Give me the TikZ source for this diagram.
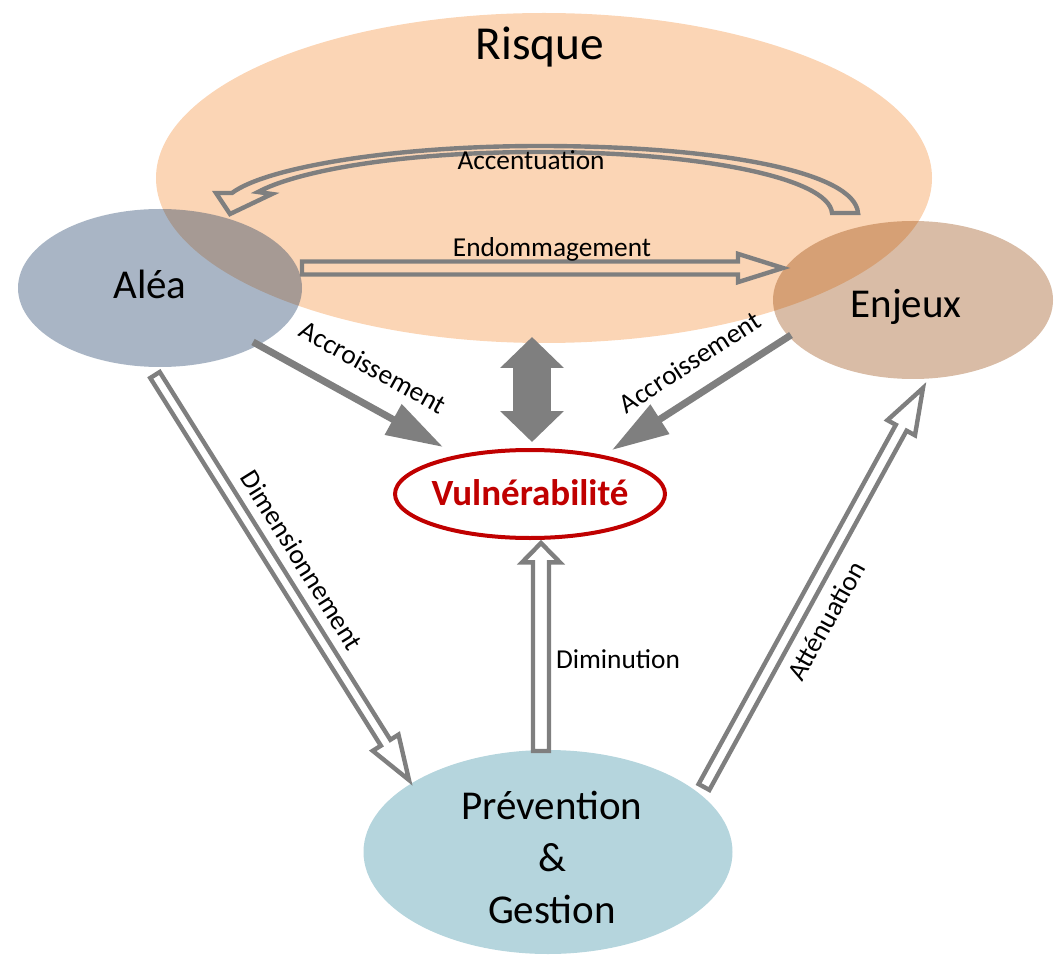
\documentclass[tikz,border=0pt]{standalone}
\usepackage{fontspec}
\setmainfont{Carlito}
\usetikzlibrary{shapes.geometric,arrows.meta,calc}

\definecolor{riskfill}{HTML}{FBD5B5}
\definecolor{aleabase}{HTML}{092C59}
\definecolor{enjeuxbase}{HTML}{924000}
\definecolor{prevfill}{HTML}{B5D5DD}
\definecolor{vulnred}{HTML}{C00000}
\definecolor{arrowgray}{HTML}{7F7F7F}

% outlined block arrow: start, end, half shaft width, half head width, head length
\newcommand\hollowarrow[5]{%
  \coordinate (hb) at ($(#2)!#5!(#1)$);
  \draw[blockoutline]
    ($(#1)!#3!90:(#2)$) -- ($(hb)!#3!90:(#2)$) -- ($(hb)!#4!90:(#2)$) -- (#2)
    -- ($(hb)!#4!-90:(#2)$) -- ($(hb)!#3!-90:(#2)$) -- ($(#1)!#3!-90:(#2)$) -- cycle;
}

\tikzset{
  blob/.style={ellipse, inner sep=0pt, outer sep=0pt},
  bigtext/.style={font=\fontsize{30.75pt}{39pt}\selectfont, inner sep=0pt},
  smalltext/.style={font=\fontsize{20.5pt}{24pt}\selectfont, inner sep=0pt},
  blockoutline/.style={draw=arrowgray, line width=3.3pt, line join=miter},
  thickarrow/.style={draw=arrowgray, line width=5.25pt, -{Triangle[length=42.75pt,width=25pt]}},
}

\begin{document}
\begin{tikzpicture}[x=0.75pt, y=-0.75pt]
\useasboundingbox (0,0) rectangle (1056,955);

% ellipses
\node[blob, fill=riskfill, minimum width=582pt, minimum height=247.5pt] (risque) at (544,178) {};
\node[blob, fill=aleabase, fill opacity=0.35, minimum width=213pt, minimum height=118.5pt] (alea) at (160,288) {};
\node[blob, fill=enjeuxbase, fill opacity=0.35, minimum width=210pt, minimum height=118.5pt] (enjeux) at (913,300) {};
\node[blob, fill=prevfill, minimum width=276.75pt, minimum height=153pt] (prev) at (548,852) {};
\node[blob, draw=vulnred, line width=3pt, fill=white, minimum width=202.5pt, minimum height=66pt] (vuln) at (530,494) {};

% arrow end points
\coordinate (endoS) at (302,268);   \coordinate (endoE) at (783,268);
\coordinate (dimS) at (155,375);    \coordinate (dimE) at (409,780);
\coordinate (attS) at (704,787);    \coordinate (attE) at (923,388);
\coordinate (diminS) at (541,751);  \coordinate (diminE) at (541,543);
\coordinate (accLS) at (253,342);   \coordinate (accLE) at (443,447);
\coordinate (accRS) at (791,335);   \coordinate (accRE) at (612,450);
\coordinate (dblS) at (532,337);    \coordinate (dblE) at (532,442);

% curved arrow from Enjeux back to Aléa
\draw[blockoutline]
  (858,213) .. controls (855,172) and (720,146) .. (540,146)
  .. controls (390,146) and (265,168) .. (232,193)
  -- (216,193) -- (230,214) -- (272,194) -- (258,192)
  .. controls (295,172) and (395,152) .. (540,152)
  .. controls (700,152) and (829,178) .. (832,213) -- cycle;

% outlined straight arrows
\hollowarrow{endoS}{endoE}{4.9pt}{10.6pt}{33.75pt}
\hollowarrow{dimS}{dimE}{4.2pt}{11.4pt}{33pt}
\hollowarrow{attS}{attE}{4.6pt}{11.8pt}{34pt}
\hollowarrow{diminS}{diminE}{6pt}{14.2pt}{14.5pt}

% solid arrows
\draw[thickarrow] (accLS) -- (accLE);
\draw[thickarrow] (accRS) -- (accRE);
\draw[draw=arrowgray, line width=28.5pt,
  {Triangle[length=23.25pt,width=46.5pt]}-{Triangle[length=23.25pt,width=46.5pt]}] (dblS) -- (dblE);

% main labels
\node[inner sep=0pt, anchor=base, font=\fontsize{35.5pt}{42pt}\selectfont] (risquetxt) at (540,60) {Risque};
\node[bigtext, anchor=base] (aleatxt) at (150,299) {Aléa};
\node[bigtext, anchor=base] (enjeuxtxt) at (906,318) {Enjeux};
\node[bigtext, align=center] (prevtxt) at (552,857) {Prévention\\\&\\Gestion};
\node[anchor=base, inner sep=0pt, text=vulnred, font=\bfseries\fontsize{27.75pt}{33pt}\selectfont] (vulntxt) at (530,505) {Vulnérabilité};

% arrow labels
\node[smalltext, anchor=base] (accentlbl) at (531,170) {Accentuation};
\node[smalltext, anchor=base] (endolbl) at (552,257) {Endommagement};
\node[smalltext, anchor=base] (diminlbl) at (618,668) {Diminution};
\node[smalltext, rotate=-29] (accrLlbl) at (373,367) {Accroissement};
\node[smalltext, rotate=33] (accrRlbl) at (690,362) {Accroissement};
\node[smalltext, rotate=-58] (dimlbl) at (302,560) {Dimensionnement};
\node[smalltext, rotate=61] (attlbl) at (826,621) {Atténuation};
\end{tikzpicture}
\end{document}
